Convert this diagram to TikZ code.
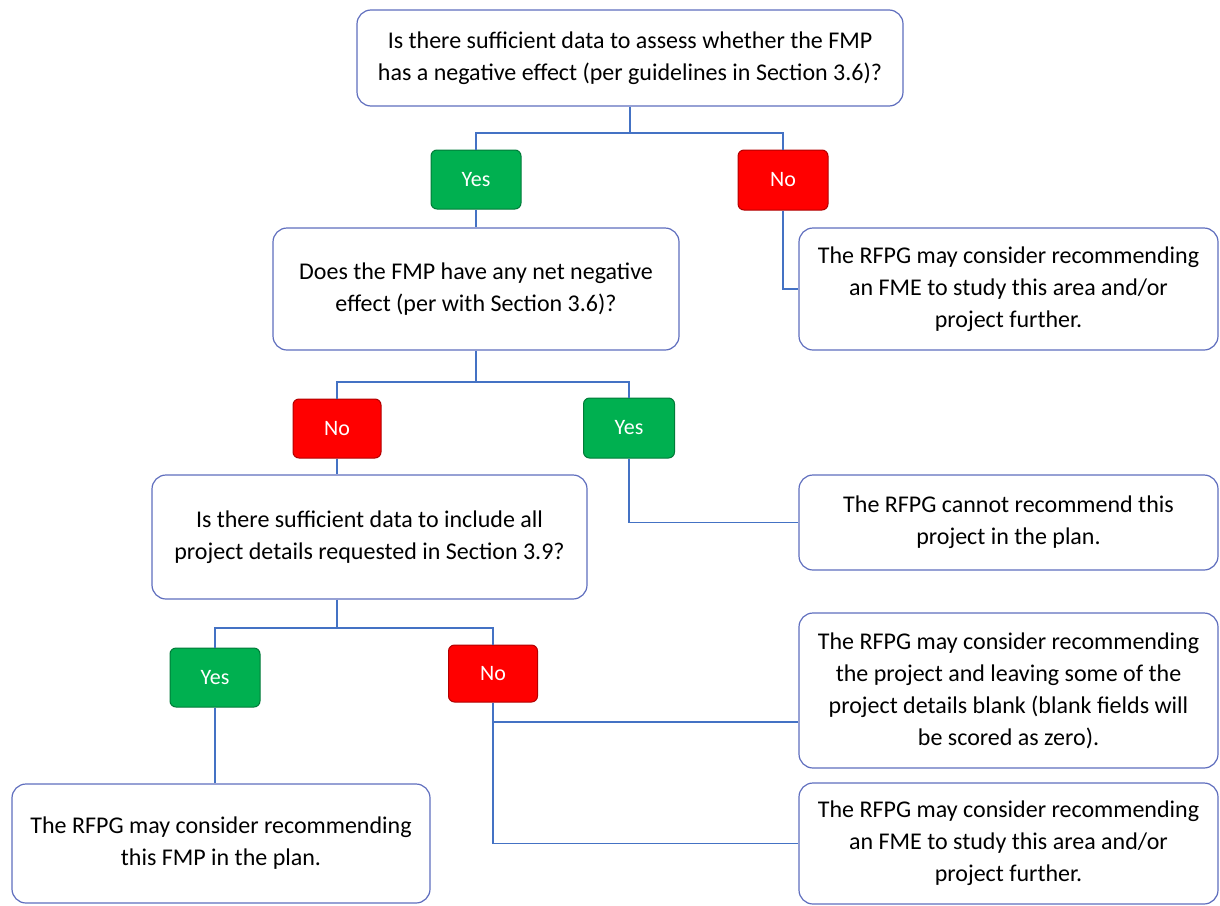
\documentclass[tikz,border=0pt]{standalone}
\usepackage{fontspec}
\setmainfont{Carlito}
\usetikzlibrary{calc}

\definecolor{linkblue}{RGB}{68,114,196}
\definecolor{edgeblue}{RGB}{95,110,190}
\definecolor{yesgreen}{RGB}{0,176,80}
\definecolor{nored}{RGB}{255,0,0}

\begin{document}
\begin{tikzpicture}[x=1pt, y=-1pt,
    block/.style={draw=edgeblue, fill=white, rounded corners=14pt, align=center, line width=1.2pt, font=\fontsize{24}{32}\selectfont},
    yesbox/.style={draw=yesgreen!70!black, fill=yesgreen, text=white, rounded corners=6pt, line width=1pt, font=\fontsize{22}{24}\selectfont},
    nobox/.style={draw=nored!70!black, fill=nored, text=white, rounded corners=6pt, line width=1pt, font=\fontsize{22}{24}\selectfont},
    conn/.style={draw=linkblue, line width=1.8pt}
  ]
    \useasboundingbox (0,0) rectangle (1220,905);

    % questions
    \node[block, minimum width=546pt, minimum height=96pt]  (q1) at (630,58)    {Is there sufficient data to assess whether the FMP\\has a negative effect (per guidelines in Section 3.6)?};
    \node[block, minimum width=406pt, minimum height=122pt] (q2) at (476,289)   {Does the FMP have any net negative\\effect (per with Section 3.6)?};
    \node[block, minimum width=435pt, minimum height=124pt] (q3) at (369.5,537) {Is there sufficient data to include all\\project details requested in Section 3.9?};

    % answers
    \node[yesbox, minimum width=90pt, minimum height=59pt] (yes1) at (476,179.5) {Yes};
    \node[nobox,  minimum width=90pt, minimum height=60pt] (no1)  at (783,180)   {No};
    \node[nobox,  minimum width=88pt, minimum height=59pt] (no2)  at (337,428.5) {No};
    \node[yesbox, minimum width=91pt, minimum height=60pt] (yes2) at (629,428)   {Yes};
    \node[yesbox, minimum width=90pt, minimum height=59pt] (yes3) at (215,677.5) {Yes};
    \node[nobox,  minimum width=89pt, minimum height=57pt] (no3)  at (493,673.5) {No};

    % outcomes
    \node[block, minimum width=419pt, minimum height=122pt] (r1) at (1008.5,289)   {The RFPG may consider recommending\\an FME to study this area and/or\\project further.};
    \node[block, minimum width=419pt, minimum height=95pt]  (r2) at (1008.5,522.5) {The RFPG cannot recommend this\\project in the plan.};
    \node[block, minimum width=419pt, minimum height=155pt] (r3) at (1008.5,690.5) {The RFPG may consider recommending\\the project and leaving some of the\\project details blank (blank fields will\\be scored as zero).};
    \node[block, minimum width=419pt, minimum height=121pt] (r4) at (1008.5,843.5) {The RFPG may consider recommending\\an FME to study this area and/or\\project further.};
    \node[block, minimum width=418pt, minimum height=119pt] (l3) at (221,843.5)    {The RFPG may consider recommending\\this FMP in the plan.};

    % branch points
    \coordinate (s1) at (630,133);
    \coordinate (s2) at (476,382);
    \coordinate (s3) at (337,628);

    \draw[conn] (q1.south) -- (s1) -| (yes1.north);
    \draw[conn] (s1) -| (no1.north);
    \draw[conn] (yes1.south) -- (q2.north);
    \draw[conn] (no1.south) |- (r1.west);

    \draw[conn] (q2.south) -- (s2) -| (no2.north);
    \draw[conn] (s2) -| (yes2.north);
    \draw[conn] (no2.south) -- (no2 |- q3.north);
    \draw[conn] (yes2.south) |- (r2.west);

    \draw[conn] (q3.south -| s3) -- (s3) -| (yes3.north);
    \draw[conn] (s3) -| (no3.north);
    \draw[conn] (yes3.south) -- (yes3 |- l3.north);
    \draw[conn] (no3.south) |- ([yshift=-31.5pt]r3.west);
    \draw[conn] (no3.south) |- (r4.west);
\end{tikzpicture}
\end{document}
